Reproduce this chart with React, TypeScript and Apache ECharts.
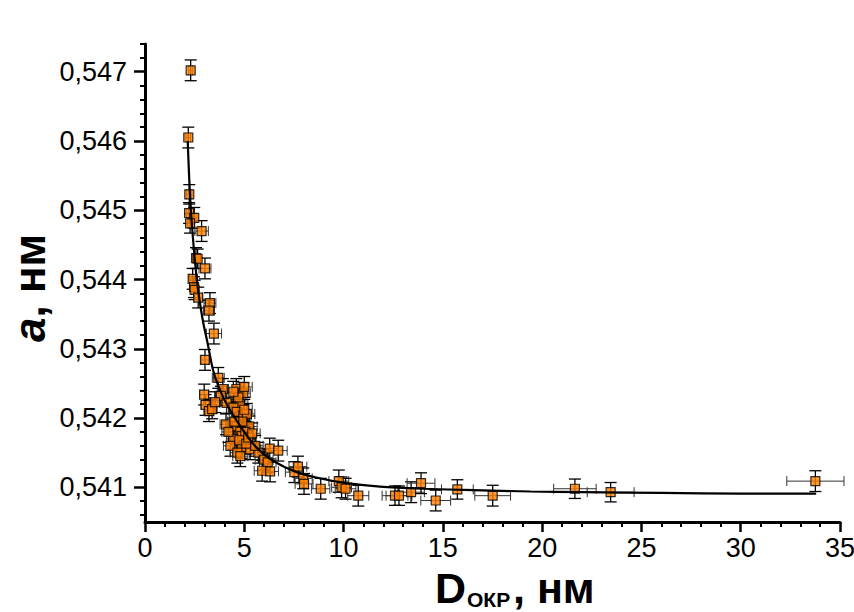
import React, { useEffect, useRef } from "react";
import * as echarts from "echarts";

// Crystallite size D (nm) and lattice parameter a (nm), with error bars
const xVals = [
  2.30, 2.18, 2.23, 2.22, 2.48, 2.27, 2.85, 2.57, 2.65, 3.02,
  2.40, 2.47, 2.50, 2.68, 3.27, 3.22, 3.47, 3.02, 3.69, 3.92,
  4.60, 4.95, 2.98, 3.82, 3.05, 3.22, 3.38, 3.53, 4.11, 4.78,
  4.45, 4.62, 4.95, 5.13, 4.08, 4.62, 5.25, 4.80, 4.87, 4.45,
  4.30, 4.87, 5.29, 5.71, 6.28, 6.71, 6.00, 6.18, 5.90, 6.30,
  7.52, 7.70, 7.97, 8.01, 8.85, 9.76, 9.90, 10.10, 10.74, 12.59,
  12.79, 13.40, 13.90, 14.64, 15.73, 17.51, 21.65, 23.45, 33.76,
  4.70, 5.00, 4.90, 5.05, 4.75, 5.10, 4.65, 5.20, 4.50, 4.80,
  4.20, 5.00, 4.45, 5.40, 5.55,
];
const yVals = [
  0.54702, 0.54605, 0.54523, 0.54496, 0.54489, 0.54481, 0.54470, 0.54431, 0.54430, 0.54416,
  0.54401, 0.54389, 0.54385, 0.54374, 0.54366, 0.54355, 0.54322, 0.54284, 0.54258, 0.54242,
  0.54242, 0.54236, 0.54234, 0.54232, 0.54219, 0.54210, 0.54213, 0.54223, 0.54222, 0.54220,
  0.54215, 0.54209, 0.54204, 0.54206, 0.54191, 0.54188, 0.54188, 0.54180, 0.54174, 0.54170,
  0.54160, 0.54157, 0.54155, 0.54150, 0.54156, 0.54153, 0.54140, 0.54136, 0.54124, 0.54123,
  0.54122, 0.54130, 0.54113, 0.54105, 0.54098, 0.54109, 0.54100, 0.54098, 0.54088, 0.54088,
  0.54088, 0.54093, 0.54106, 0.54081, 0.54097, 0.54088, 0.54098, 0.54093, 0.54109,
  0.54230, 0.54212, 0.54195, 0.54180, 0.54168, 0.54163, 0.54150, 0.54172, 0.54195, 0.54145,
  0.54180, 0.54245, 0.54238, 0.54178, 0.54160,
];
const xErrs = [
  0.10, 0.12, 0.13, 0.12, 0.14, 0.12, 0.34, 0.18, 0.15, 0.30,
  0.16, 0.20, 0.16, 0.20, 0.30, 0.28, 0.38, 0.18, 0.30, 0.28,
  0.40, 0.35, 0.22, 0.30, 0.22, 0.25, 0.25, 0.28, 0.35, 0.40,
  0.35, 0.38, 0.40, 0.40, 0.30, 0.35, 0.40, 0.38, 0.38, 0.35,
  0.35, 0.40, 0.40, 0.40, 0.45, 0.45, 0.45, 0.42, 0.40, 0.42,
  0.45, 0.45, 0.45, 0.45, 0.46, 0.50, 0.50, 0.52, 0.53, 0.65,
  0.65, 0.67, 0.70, 0.75, 0.80, 0.90, 1.07, 1.18, 1.44,
  0.38, 0.40, 0.38, 0.40, 0.38, 0.40, 0.36, 0.40, 0.35, 0.38,
  0.33, 0.40, 0.35, 0.40, 0.40,
];
const yErrs = [
  0.00015, 0.00015, 0.00014, 0.00015, 0.00015, 0.00014, 0.00015, 0.00015, 0.00014, 0.00015,
  0.00015, 0.00015, 0.00014, 0.00015, 0.00015, 0.00015, 0.00015, 0.00015, 0.00015, 0.00015,
  0.00015, 0.00015, 0.00015, 0.00014, 0.00015, 0.00015, 0.00014, 0.00015, 0.00015, 0.00015,
  0.00015, 0.00015, 0.00015, 0.00015, 0.00015, 0.00015, 0.00015, 0.00015, 0.00015, 0.00015,
  0.00015, 0.00015, 0.00015, 0.00015, 0.00015, 0.00015, 0.00015, 0.00015, 0.00015, 0.00015,
  0.00015, 0.00015, 0.00015, 0.00015, 0.00015, 0.00016, 0.00015, 0.00015, 0.00015, 0.00014,
  0.00014, 0.00015, 0.00015, 0.00015, 0.00014, 0.00015, 0.00014, 0.00014, 0.00015,
  0.00015, 0.00015, 0.00015, 0.00015, 0.00015, 0.00015, 0.00015, 0.00015, 0.00015, 0.00015,
  0.00015, 0.00015, 0.00015, 0.00015, 0.00015,
];

// Fitted curve
const fitX = [
  2.15, 2.22, 2.30, 2.40, 2.52, 2.65, 2.80, 2.95, 3.14, 3.44,
  3.86, 4.28, 4.95, 5.63, 6.46, 7.64, 8.96, 10.16, 11.83, 14.0,
  16.5, 19.4, 22.0, 26.0, 30.0, 33.8,
];
const fitY = [
  0.54600, 0.54550, 0.54505, 0.54465, 0.54425, 0.54390, 0.54360, 0.54335, 0.54310, 0.54268,
  0.54235, 0.54212, 0.54182, 0.54157, 0.54138, 0.54122, 0.54112, 0.54106, 0.54101, 0.54098,
  0.54096, 0.54094, 0.54093, 0.54092, 0.54091, 0.54091,
];

const yMajorTicks = [0.541, 0.542, 0.543, 0.544, 0.545, 0.546, 0.547];
const yMinorTicks = [
  0.5406, 0.5408, 0.5412, 0.5414, 0.5416, 0.5418, 0.5422, 0.5424, 0.5426, 0.5428,
  0.5432, 0.5434, 0.5436, 0.5438, 0.5442, 0.5444, 0.5446, 0.5448, 0.5452, 0.5454,
  0.5456, 0.5458, 0.5462, 0.5464, 0.5466, 0.5468, 0.5472, 0.5474,
];

const FONT = "'Liberation Sans', Arial, sans-serif";

export default function App() {
  const ref = useRef<HTMLDivElement>(null);

  useEffect(() => {
    if (!ref.current) return;
    const chart = echarts.init(ref.current, null, { renderer: "svg" });

    const points = xVals.map((x, i) => [x, yVals[i]]);
    const errData = xVals.map((x, i) => [x, yVals[i], xErrs[i], yErrs[i]]);
    const fitData = fitX.map((x, i) => [x, fitY[i]]);

    const option: any = {
      animation: false,
      backgroundColor: "#ffffff",
      grid: { left: 145, right: 14, top: 44, bottom: 90, containLabel: false, outerBoundsMode: "none" },
      xAxis: {
        type: "value",
        min: 0,
        max: 35,
        interval: 5,
        axisLine: { show: true, onZero: false, lineStyle: { color: "#000", width: 3 } },
        axisTick: { show: true, inside: false, length: 10, lineStyle: { color: "#000", width: 2.5 } },
        minorTick: { show: true, splitNumber: 5, length: 5, lineStyle: { color: "#000", width: 2 } },
        splitLine: { show: false },
        minorSplitLine: { show: false },
        axisLabel: { color: "#000", fontSize: 27, fontFamily: FONT, margin: 14, lineHeight: 23 },
      },
      yAxis: [
        {
          type: "value",
          min: 0.5405,
          max: 0.5474,
          axisLine: { show: true, onZero: false, lineStyle: { color: "#000", width: 3 } },
          axisTick: { show: true, inside: false, length: 11, customValues: yMajorTicks, lineStyle: { color: "#000", width: 2.5 } },
          splitLine: { show: false },
          axisLabel: {
            color: "#000",
            fontSize: 27,
            fontFamily: FONT,
            margin: 18,
            customValues: yMajorTicks,
            formatter: (v: number) => v.toFixed(3).replace(".", ","),
          },
        },
        {
          type: "value",
          min: 0.5405,
          max: 0.5474,
          position: "left",
          axisLine: { show: false },
          axisTick: { show: true, inside: false, length: 5, customValues: yMinorTicks, lineStyle: { color: "#000", width: 2 } },
          splitLine: { show: false },
          axisLabel: { show: false },
        },
      ],
      graphic: [
        {
          type: "text",
          x: 29,
          y: 288,
          rotation: Math.PI / 2,
          style: {
            text: "{a|a}{b|, нм}",
            align: "center",
            verticalAlign: "middle",
            rich: {
              a: { fontSize: 44, fontWeight: "bold", fontStyle: "italic", fontFamily: FONT, fill: "#000" },
              b: { fontSize: 44, fontWeight: "bold", fontFamily: FONT, fill: "#000" },
            },
          },
        },
        {
          type: "text",
          x: 435,
          y: 588,
          style: { text: "D", fontSize: 43, lineHeight: 34, fontWeight: "bold", fontFamily: FONT, fill: "#000", align: "left", verticalAlign: "middle" },
        },
        {
          type: "text",
          x: 467,
          y: 599,
          style: { text: "ОКР", fontSize: 21, lineHeight: 20, fontWeight: "bold", fontFamily: FONT, fill: "#000", align: "left", verticalAlign: "middle" },
        },
        {
          type: "text",
          x: 513,
          y: 588,
          style: { text: ", нм", fontSize: 43, lineHeight: 34, fontWeight: "bold", fontFamily: FONT, fill: "#000", align: "left", verticalAlign: "middle" },
        },
      ],
      series: [
        {
          type: "custom",
          name: "errors",
          data: errData,
          encode: { x: 0, y: 1 },
          z: 2,
          silent: true,
          renderItem: (params: any, api: any) => {
            const x = api.value(0);
            const y = api.value(1);
            const ex = api.value(2);
            const ey = api.value(3);
            const c = api.coord([x, y]);
            const t = api.coord([x, y + ey]);
            const b = api.coord([x, y - ey]);
            const l = api.coord([x - ex, y]);
            const r = api.coord([x + ex, y]);
            const capY = 6;
            const capX = 5;
            const vs = { stroke: "#000", lineWidth: 1.3 };
            const hs = { stroke: "#333", lineWidth: 1 };
            return {
              type: "group",
              children: [
                { type: "line", shape: { x1: c[0], y1: t[1], x2: c[0], y2: b[1] }, style: vs },
                { type: "line", shape: { x1: c[0] - capY, y1: t[1], x2: c[0] + capY, y2: t[1] }, style: vs },
                { type: "line", shape: { x1: c[0] - capY, y1: b[1], x2: c[0] + capY, y2: b[1] }, style: vs },
                { type: "line", shape: { x1: l[0], y1: c[1], x2: r[0], y2: c[1] }, style: hs },
                { type: "line", shape: { x1: l[0], y1: c[1] - capX, x2: l[0], y2: c[1] + capX }, style: hs },
                { type: "line", shape: { x1: r[0], y1: c[1] - capX, x2: r[0], y2: c[1] + capX }, style: hs },
              ],
            };
          },
        },
        {
          type: "scatter",
          name: "points",
          data: points,
          symbol: "rect",
          symbolSize: 9,
          z: 3,
          itemStyle: { color: "#FF8000", borderColor: "#000", borderWidth: 1.2 },
        },
        {
          type: "line",
          name: "fit",
          data: fitData,
          showSymbol: false,
          symbol: "none",
          smooth: 0.3,
          z: 4,
          lineStyle: { color: "#000", width: 2.2 },
        },
      ],
    };

    chart.setOption(option);
    return () => chart.dispose();
  }, []);

  return <div ref={ref} style={{ width: 854, height: 612, position: "absolute", left: 0, top: 0 }} />;
}
